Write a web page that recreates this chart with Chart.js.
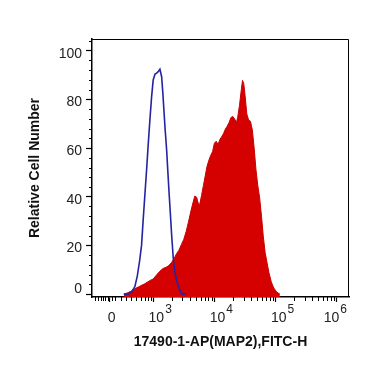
<!DOCTYPE html>
<html>
<head>
<meta charset="utf-8">
<script src="https://cdn.jsdelivr.net/npm/chart.js@4.4.1/dist/chart.umd.min.js"></script>
<style>
  html, body { margin: 0; padding: 0; background: #fff; }
</style>
</head>
<body>
<canvas id="histo" width="370" height="367"></canvas>
<script>
// x values are positions on the biexponential display, in decades (3 = 10^3)
const redX = [2.52, 2.58, 2.64, 2.70, 2.78, 2.86, 2.95, 3.00, 3.06, 3.11, 3.16, 3.21, 3.25, 3.30, 3.34, 3.38,
    3.42, 3.46, 3.50, 3.54, 3.58, 3.62, 3.65, 3.68, 3.71, 3.74, 3.76, 3.79, 3.82, 3.85, 3.88, 3.91, 3.94, 3.97,
    4.00, 4.03, 4.06, 4.09, 4.12, 4.15, 4.18, 4.21, 4.24, 4.27, 4.30, 4.33, 4.36, 4.38, 4.41, 4.44, 4.46, 4.48,
    4.50, 4.53, 4.56, 4.59, 4.62, 4.65, 4.68, 4.71, 4.74, 4.77, 4.80, 4.83, 4.86, 4.89, 4.93, 4.97, 5.02, 5.07];
const redY = [0, 0.5, 1.2, 2.2, 3.2, 4.2, 5.6, 6.2, 8.0, 9.4, 10.5, 11.0, 11.6, 13.0, 14.5, 16.5,
    18.0, 20.3, 22.5, 25.8, 30.0, 34.5, 37.5, 40.3, 39.8, 37.0, 36.8, 40.5, 44.5, 48.5, 52.5, 55.0, 57.0, 58.5,
    62.0, 62.8, 61.5, 63.5, 64.7, 66.0, 67.8, 69.0, 70.5, 72.5, 73.0, 72.0, 70.5, 72.5, 77.5, 84.0, 87.8, 86.5,
    82.0, 74.0, 71.5, 71.0, 67.5, 60.0, 51.0, 44.5, 39.5, 32.0, 23.5, 17.0, 13.0, 9.0, 5.0, 2.5, 0.8, 0];

const blueX = [2.52, 2.585, 2.646, 2.70, 2.74, 2.78, 2.81, 2.836, 2.864, 2.892, 2.918, 2.946, 2.974, 3.0,
    3.03, 3.056, 3.082, 3.11, 3.138, 3.16, 3.175, 3.196, 3.22, 3.24, 3.26, 3.28, 3.30, 3.33, 3.355, 3.38,
    3.416, 3.45, 3.486, 3.535];
const blueY = [0, 0, 0.8, 3.0, 7.4, 14.0, 20.1, 30.4, 40.7, 51.0, 61.2, 71.5, 81.0, 88.0,
    90.4, 90.8, 91.4, 92.4, 89.3, 81.8, 75.6, 67.4, 59.1, 50.1, 41.4, 33.3, 24.9, 14.0, 9.0, 5.8,
    2.9, 0.8, 0, 0];

const xTickValues = [2.29, 3, 4, 5, 6];
const xTickBase = ['0', '10', '10', '10', '10'];
const xTickExp = ['', '3', '4', '5', '6'];
const xMinorLow = [2.045, 2.094, 2.14, 2.177, 2.214, 2.26, 2.32, 2.37, 2.47, 2.55, 2.635, 2.72, 2.80, 2.86, 2.91, 2.96];
const yTickValues = [0, 20, 40, 60, 80, 100];
const yTickLabels = ['0', '20', '40', '60', '80', '100'];

const FONT = 'Liberation Sans, Arial, sans-serif';

// log minor ticks between the decades
const xMinor = xMinorLow.slice();
for (let n = 3; n < 6; n++) {
    for (let k = 2; k <= 9; k++) xMinor.push(n + Math.log10(k));
}
const yMinor = [];
for (let v = 4; v <= 104; v += 4) if (v % 20) yMinor.push(v);

const axisDecor = {
    id: 'axisDecor',
    afterDraw(chart) {
        const { ctx, chartArea: a, scales: { x, y } } = chart;
        ctx.save();
        ctx.strokeStyle = '#000';
        ctx.lineWidth = 1;
        ctx.beginPath();
        ctx.moveTo(a.left, a.top + 0.5);
        ctx.lineTo(a.right - 0.5, a.top + 0.5);
        ctx.lineTo(a.right - 0.5, a.bottom);
        xMinor.forEach(v => {
            const px = Math.round(x.getPixelForValue(v)) + 0.5;
            ctx.moveTo(px, a.bottom);
            ctx.lineTo(px, a.bottom + 4);
        });
        yMinor.forEach(v => {
            const py = Math.round(y.getPixelForValue(v)) + 0.5;
            ctx.moveTo(a.left - 3, py);
            ctx.lineTo(a.left, py);
        });
        ctx.stroke();

        ctx.fillStyle = '#222';
        ctx.textBaseline = 'alphabetic';
        // y labels, the lowest one kept above the x axis
        ctx.textAlign = 'right';
        ctx.font = `14px ${FONT}`;
        yTickValues.forEach((v, i) => {
            const base = Math.min(y.getPixelForValue(v) + 7, a.bottom - 4);
            ctx.fillText(yTickLabels[i], a.left - 10, base);
        });
        // x labels with exponents
        ctx.textAlign = 'left';
        xTickValues.forEach((v, i) => {
            ctx.font = `14px ${FONT}`;
            const wb = ctx.measureText(xTickBase[i]).width;
            ctx.font = `12px ${FONT}`;
            const we = xTickExp[i] ? ctx.measureText(xTickExp[i]).width + 1 : 0;
            const w = wb + we;
            let left = x.getPixelForValue(v) + (xTickExp[i] ? 7 : 2) - w / 2;
            if (left + w > a.right - 2) left = a.right - 2 - w;
            ctx.font = `14px ${FONT}`;
            ctx.fillText(xTickBase[i], left, a.bottom + 24.5);
            if (xTickExp[i]) {
                ctx.font = `12px ${FONT}`;
                ctx.fillText(xTickExp[i], left + wb + 1, a.bottom + 16);
            }
        });
        ctx.restore();
    }
};

const axisGrid = {
    drawOnChartArea: false,
    drawTicks: true,
    tickLength: 5,
    tickColor: '#000',
    tickWidth: 1.2
};

new Chart(document.getElementById('histo'), {
    type: 'line',
    data: {
        datasets: [
            {
                label: 'control',
                data: blueX.map((v, i) => ({ x: v, y: blueY[i] })),
                borderColor: '#2424a0',
                borderWidth: 1.6,
                pointRadius: 0,
                fill: false,
                tension: 0,
                order: 0
            },
            {
                label: 'MAP2',
                data: redX.map((v, i) => ({ x: v, y: redY[i] })),
                borderColor: '#c80000',
                backgroundColor: '#d50000',
                borderWidth: 1,
                pointRadius: 0,
                fill: 'start',
                tension: 0,
                order: 1
            }
        ]
    },
    options: {
        responsive: false,
        animation: false,
        devicePixelRatio: 1,
        layout: { padding: { left: 0, top: 39, right: 21, bottom: 0 } },
        plugins: { legend: { display: false }, tooltip: { enabled: false } },
        scales: {
            x: {
                type: 'linear',
                position: 'bottom',
                min: 2.0,
                max: 6.2,
                afterFit: s => { s.height = 70; },
                afterBuildTicks: s => { s.ticks = xTickValues.map(v => ({ value: v })); },
                ticks: { display: false },
                grid: axisGrid,
                border: { color: '#000', width: 1.5 },
                title: {
                    display: true,
                    text: '17490-1-AP(MAP2),FITC-H',
                    color: '#111',
                    font: { family: FONT, size: 14, weight: 'bold' },
                    padding: { top: 0, bottom: 16.6 }
                }
            },
            y: {
                type: 'linear',
                min: -1.2,
                max: 104.8,
                afterFit: s => { s.width = 92; },
                afterBuildTicks: s => { s.ticks = yTickValues.map(v => ({ value: v })); },
                ticks: { display: false },
                grid: Object.assign({}, axisGrid, { tickLength: 6 }),
                border: { color: '#000', width: 1.5 },
                title: {
                    display: true,
                    text: 'Relative Cell Number',
                    color: '#111',
                    font: { family: FONT, size: 14, weight: 'bold' },
                    padding: { top: 27, bottom: 0 }
                }
            }
        }
    },
    plugins: [axisDecor]
});
</script>
</body>
</html>
